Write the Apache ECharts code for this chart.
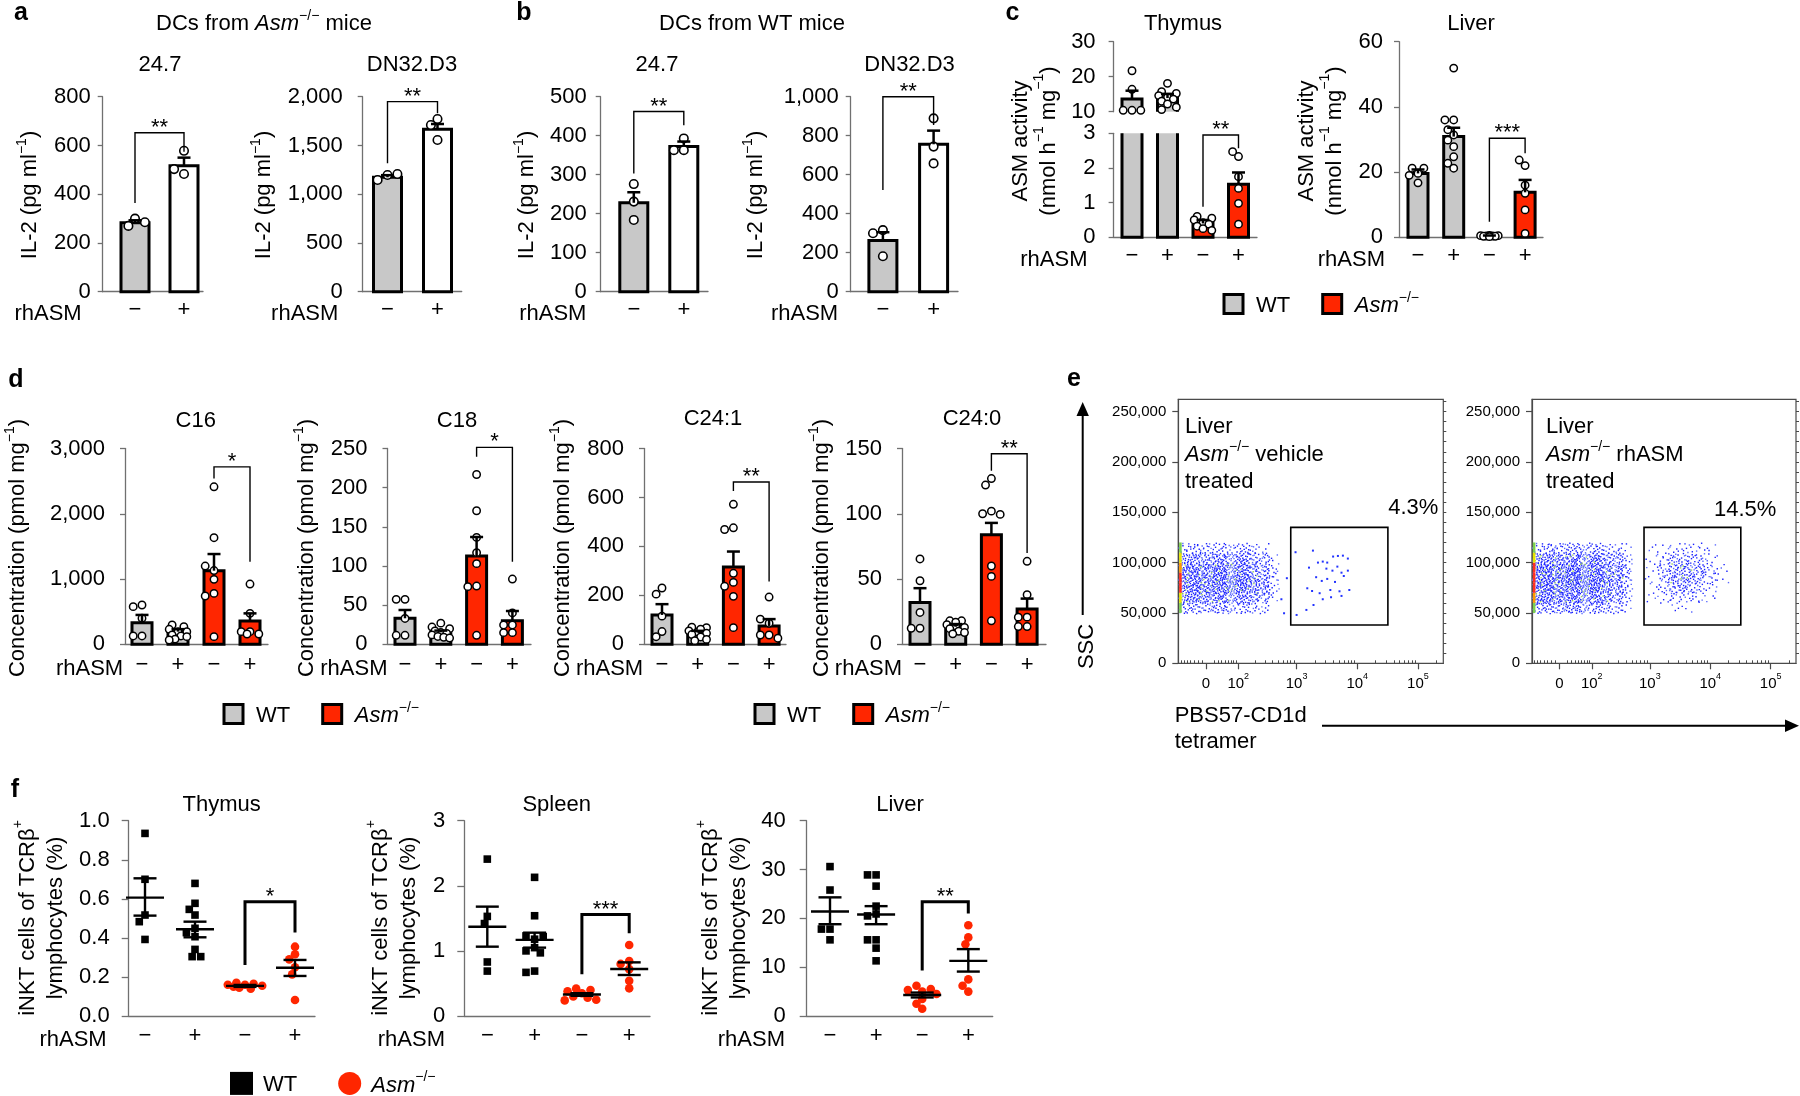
<!DOCTYPE html>
<html><head><meta charset="utf-8"><title>ASM figure</title>
<script src="https://cdn.jsdelivr.net/npm/echarts@6.0.0/dist/echarts.min.js"></script>
<style>html,body{margin:0;padding:0;background:#fff;}#chart{width:1800px;height:1096px;}</style>
</head><body><div id="chart"></div>
<script>
// ======================= DATA =======================
const rhASM2 = ['−', '+'];
const rhASM4 = ['−', '+', '−', '+'];

// a — IL-2 (pg ml−1), DCs from Asm−/− mice
const a247Bars = [283, 517];
const a247Err = [293, 550];
const a247Dots = [[300, 270, 285], [578, 483, 503]];
const a247Sig = [364, 652, 574];
const aDN32Bars = [1173, 1666];
const aDN32Err = [1195, 1720];
const aDN32Dots = [[1197, 1146, 1207], [1556, 1771, 1710]];
const aDN32Sig = [1317, 1949, 1830];

// b — IL-2 (pg ml−1), DCs from WT mice
const b247Bars = [228, 372];
const b247Err = [255, 385];
const b247Dots = [[231, 276, 184], [393, 363, 363]];
const b247Sig = [303, 462, 427];
const bDN32Bars = [262, 756];
const bDN32Err = [305, 826];
const bDN32Dots = [[316, 300, 182], [744, 889, 658]];
const bDN32Sig = [521, 1000, 855];

// c — ASM activity (nmol h−1 mg−1): WT −, WT +, Asm−/− −, Asm−/− +
const cThyBars = [13.6, 13.9, 0.40, 1.53];
const cThyErr = [16.0, 15.1, 0.50, 1.87];
const cThyDots = [[16.4, 21.7, 10.4, 10.4, 10.4], [14.1, 18.1, 15.7, 15.2, 14.6, 13.6, 13.0, 12.2, 11.3, 10.6],
  [0.42, 0.6, 0.55, 0.5, 0.38, 0.32, 0.25, 0.2], [1.75, 2.33, 2.47, 1.41, 0.98, 0.38]];
const cThySig = [0.88, 2.95, 2.57];
const cLivBars = [19.6, 30.9, 0.40, 13.8];
const cLivErr = [20.8, 33.6, 0.55, 17.6];
const cLivDots = [[19.6, 21.2, 21.2, 19.0, 16.7], [31.4, 51.9, 36, 36, 33, 29.8, 27.8, 24.7, 22.7, 21.2],
  [0.6, 0.5, 0.5, 0.4, 0.4, 0.3, 0.3, 0.2], [13.5, 22, 23.7, 16, 8.4, 1.2]];
const cLivSig = [4.8, 30.4, 25.8];

// d — ceramide concentration (pmol mg−1)
const dC16Bars = [332, 194, 1128, 357];
const dC16Err = [450, 232, 1383, 474];
const dC16Dots = [[398, 602, 577, 128, 128], [194, 296, 270, 230, 194, 143, 128, 117, 80, 66],
  [1130, 2413, 1633, 1199, 995, 780, 740, 117], [474, 923, 194, 194, 158, 158]];
const dC16Sig = [2541, 2719, 1265];
const dC18Bars = [33.2, 15.3, 112.7, 30.2];
const dC18Err = [43.8, 17.5, 137, 42.5];
const dC18Dots = [[33, 57.4, 57.4, 11.5, 11.5], [15, 27, 22, 20, 17, 14, 12, 10, 9, 8],
  [117, 216.8, 170.5, 136.5, 103, 74.4, 73.6, 11.5], [40, 83.3, 24.7, 24.7, 14.9, 14.9]];
const dC18Sig = [239.4, 251.5, 105.4];
const dC241Bars = [120, 48, 316, 75];
const dC241Err = [164, 55, 379, 103];
const dC241Dots = [[115, 230, 205, 52, 31], [50, 70, 68, 62, 55, 45, 40, 30, 20, 15],
  [290, 572, 476, 469, 253, 237, 196, 68], [86, 193, 103, 38, 38, 25]];
const dC241Sig = [626, 663, 257];
const dC240Bars = [32, 13.6, 84, 27];
const dC240Err = [43, 15.5, 93, 35];
const dC240Dots = [[24.4, 65.4, 48.7, 12.3, 12.3], [14, 18, 18, 17, 15, 13, 12, 10, 9, 8],
  [60, 127, 122, 102, 100, 99.5, 52, 18], [20.8, 63.6, 38, 20.8, 13.6, 13.6]];
const dC240Sig = [133, 146, 70];

// e — flow cytometry (liver, Asm−/−): PBS57-CD1d tetramer vs SSC
const flowXRange = [-80, 262144];
const flowYRange = [0, 262144];
const flowXMajor = [0, 100, 1000, 10000, 100000];
const flowXLabels = ['{n|0}', '{n|10}{s|2}', '{n|10}{s|3}', '{n|10}{s|4}', '{n|10}{s|5}'];
const flowYTicks = [0, 50000, 100000, 150000, 200000, 250000];
const cloudXEdges = [-80, -30, 0, 30, 70, 130, 220, 350, 500];
const cloudYEdges = [50000, 60000, 70000, 80000, 90000, 100000, 110000, 120000];
// relative event density (0–10), rows from 50k SSC upward
const cloudVehicle = [
  [4, 4, 4, 4, 3, 3, 2, 0], [7, 7, 7, 7, 6, 6, 4, 1], [8, 9, 9, 9, 8, 8, 6, 2], [8, 9, 9, 9, 9, 8, 6, 2],
  [8, 8, 8, 8, 8, 7, 5, 2], [6, 6, 6, 6, 6, 5, 4, 1], [3, 3, 3, 3, 3, 3, 1, 0]];
const cloudRhasm = [
  [4, 5, 5, 5, 4, 4, 3, 1], [8, 8, 8, 8, 7, 7, 5, 2], [9, 9, 9, 9, 9, 8, 6, 3], [9, 10, 10, 10, 9, 9, 7, 3],
  [9, 9, 9, 9, 9, 8, 6, 3], [7, 7, 7, 7, 7, 6, 5, 2], [3, 4, 4, 4, 4, 3, 2, 1]];
const pileVehicle = [2, 4, 7, 8, 6, 3, 1];
const pileRhasm = [2, 5, 8, 8, 7, 4, 1];
const gateXEdges = [800, 1300, 2000, 3200, 5000, 8000, 13000, 20000];
const gateRhasm = [
  [0, 0, 1, 1, 0, 0, 0], [1, 2, 3, 3, 2, 1, 0], [1, 3, 6, 6, 4, 2, 0], [1, 4, 7, 8, 6, 3, 1],
  [1, 4, 7, 7, 6, 3, 1], [1, 3, 5, 5, 4, 2, 0], [1, 1, 2, 3, 2, 1, 0]];
const gateVehiclePts = [[960, 110300], [1860, 111900], [1600, 95000], [2250, 100000], [2700, 101000], [3200, 100000],
  [4000, 106000], [4800, 106600], [5800, 106900], [7000, 104000], [3100, 94000], [3900, 92000], [4700, 96000],
  [5500, 90000], [7000, 92000], [2100, 85500], [2600, 81800], [3200, 83800], [4300, 80800], [6000, 86700],
  [1500, 74500], [1800, 71800], [2400, 69600], [3600, 72800], [5100, 71500], [7400, 72800], [1900, 57900],
  [2700, 63600], [3700, 65600], [5500, 66900], [1450, 53000], [1000, 48000], [690, 84500], [560, 63600], [620, 49700]];
const gateBox = [800, 32000, 38000, 135000];
const gatePct = ['4.3%', '14.5%'];

// f — iNKT cells of TCRβ+ lymphocytes (%)
const fThyVals = [[0.70, 0.935, 0.517, 0.483, 0.392], [0.449, 0.679, 0.577, 0.546, 0.517, 0.427, 0.406, 0.341, 0.304, 0.304],
  [0.16, 0.17, 0.165, 0.16, 0.155, 0.15, 0.145, 0.14], [0.25, 0.316, 0.355, 0.29, 0.213, 0.082]];
const fThyMean = [0.606, 0.444, 0.154, 0.247];
const fThySemLo = [0.514, 0.403, 0.149, 0.205];
const fThySemHi = [0.705, 0.483, 0.159, 0.287];
const fThySig = [0.261, 0.585, 0.427];
const fSplVals = [[1.53, 2.41, 1.42, 0.83, 0.69], [1.18, 2.13, 1.54, 1.23, 1.22, 1.05, 1.0, 0.97, 0.69, 0.67],
  [0.35, 0.42, 0.4, 0.38, 0.3, 0.28, 0.25, 0.24], [0.72, 1.09, 0.845, 0.80, 0.54, 0.425]];
const fSplMean = [1.37, 1.17, 0.33, 0.722];
const fSplSemLo = [1.065, 1.05, 0.31, 0.63];
const fSplSemHi = [1.68, 1.28, 0.35, 0.824];
const fSplSig = [0.64, 1.56, 1.27];
const fLivVals = [[25.8, 30.6, 17.8, 17.8, 15.6], [20.9, 28.9, 28.9, 26.6, 22.5, 20.5, 15.6, 15.6, 13.9, 11.3],
  [5.0, 6.2, 5.5, 5.3, 4.5, 3.5, 2.5, 1.5], [7.5, 18.6, 16.1, 14.7, 6.2, 5.0]];
const fLivMean = [21.4, 20.8, 4.3, 11.3];
const fLivSemLo = [18.8, 18.8, 3.8, 9.1];
const fLivSemHi = [24.3, 22.5, 4.8, 13.7];
const fLivSig = [9.3, 23.4, 21.0];

// ======================= STYLE / BUILDERS =======================
const FONT = '"Liberation Sans", Arial, Helvetica, sans-serif';
const FS = 22;
const AX = '#707070';
const GRAY = '#c8c8c8', RED = '#ff2600';
const grids = [], xAxis = [], yAxis = [], series = [], graphic = [], legends = [];

function rich(fs, lh) {
  const s = Math.round(fs * 0.62);
  lh = lh || fs + 4;
  return {
    n: {fontSize: fs, fontFamily: FONT, color: '#000', lineHeight: lh, verticalAlign: 'bottom'},
    i: {fontSize: fs, fontFamily: FONT, color: '#000', fontStyle: 'italic', lineHeight: lh, verticalAlign: 'bottom'},
    s: {fontSize: s, fontFamily: FONT, color: '#000', lineHeight: s + 2, verticalAlign: 'top'}
  };
}
function label(x, y, t, o) {
  o = o || {};
  const fs = o.fs || FS;
  const al = o.align || 'center';
  graphic.push({type: 'text', x: x, y: y, rotation: o.rot || 0, silent: true, z: 100,
    style: {text: t, rich: rich(fs, o.lh), font: (o.bold ? 'bold ' : '') + fs + 'px ' + FONT, fill: '#000',
      align: al, verticalAlign: 'middle', textAlign: al, textVerticalAlign: 'middle'}});
}
function fmtComma(v) { return Math.round(v).toLocaleString('en-US'); }
function fmt1(v) { return v.toFixed(1); }

// beeswarm placement of dots inside a group (pixel offsets, capped to the group width)
function swarm(pys, d, cap) {
  const placed = [], out = [];
  const step = d / 3;
  pys.forEach(py => {
    let off = 0;
    if (py !== null) {
      let best = 0, bestD = -1, found = false;
      for (let k = 0; k < 400; k++) {
        const c = k === 0 ? 0 : (k % 2 ? -1 : 1) * Math.ceil(k / 2) * step;
        if (Math.abs(c) > cap + 1e-9) break;
        const md = placed.length ? Math.min.apply(null, placed.map(p => Math.hypot(p[0] - c, p[1] - py))) : Infinity;
        if (md >= d * 0.85) { off = c; found = true; break; }
        if (md > bestD) { bestD = md; best = c; }
      }
      if (!found) off = best;
      placed.push([off, py]);
    }
    out.push(off);
  });
  return out;
}

function barRenderer(color, w, bw) {
  return (p, api) => {
    const i = api.value(0), v = api.value(1), cs = p.coordSys;
    const b = api.coord([i, 0]), t = api.coord([i, v]);
    const yb = Math.min(b[1], cs.y + cs.height), yt = Math.max(t[1], cs.y);
    if (yt >= yb) return null;
    const x0 = b[0] - w / 2, x1 = b[0] + w / 2;
    const topIn = t[1] >= cs.y - 0.5, botIn = b[1] <= cs.y + cs.height + 0.5;
    const ls = {stroke: '#000', lineWidth: bw, fill: 'none'};
    const kids = [{type: 'rect', shape: {x: x0, y: yt, width: w, height: yb - yt}, style: {fill: color}}];
    if (topIn && botIn) kids.push({type: 'rect', shape: {x: x0, y: yt, width: w, height: yb - yt}, style: ls});
    else if (topIn) kids.push({type: 'polyline', shape: {points: [[x0, yb], [x0, yt], [x1, yt], [x1, yb]]}, style: ls});
    else if (botIn) kids.push({type: 'polyline', shape: {points: [[x0, yt], [x0, yb], [x1, yb], [x1, yt]]}, style: ls});
    else kids.push({type: 'line', shape: {x1: x0, y1: yt, x2: x0, y2: yb}, style: ls},
                   {type: 'line', shape: {x1: x1, y1: yt, x2: x1, y2: yb}, style: ls});
    return {type: 'group', children: kids};
  };
}
function errRenderer(cap, lw) {
  return (p, api) => {
    const i = api.value(0), cs = p.coordSys;
    const a = api.coord([i, api.value(1)]), b = api.coord([i, api.value(2)]);
    if (a[1] < cs.y - 0.5 || a[1] > cs.y + cs.height + 0.5 || b[1] < cs.y - 0.5) return null;
    const ls = {stroke: '#000', lineWidth: lw};
    return {type: 'group', children: [
      {type: 'line', shape: {x1: a[0], y1: a[1], x2: b[0], y2: b[1]}, style: ls},
      {type: 'line', shape: {x1: b[0] - cap / 2, y1: b[1], x2: b[0] + cap / 2, y2: b[1]}, style: ls}]};
  };
}
function meanRenderer(mw, cw, lw) {
  return (p, api) => {
    const i = api.value(0);
    const m = api.coord([i, api.value(1)]), lo = api.coord([i, api.value(2)]), hi = api.coord([i, api.value(3)]);
    const ls = {stroke: '#000', lineWidth: lw};
    return {type: 'group', children: [
      {type: 'line', shape: {x1: m[0] - mw / 2, y1: m[1], x2: m[0] + mw / 2, y2: m[1]}, style: ls},
      {type: 'line', shape: {x1: lo[0], y1: lo[1], x2: hi[0], y2: hi[1]}, style: ls},
      {type: 'line', shape: {x1: lo[0] - cw / 2, y1: lo[1], x2: lo[0] + cw / 2, y2: lo[1]}, style: ls},
      {type: 'line', shape: {x1: hi[0] - cw / 2, y1: hi[1], x2: hi[0] + cw / 2, y2: hi[1]}, style: ls}]};
  };
}
function addSig(xi, yi, brI, sig, stars, lw) {
  series.push({type: 'custom', xAxisIndex: xi, yAxisIndex: yi, z: 5, silent: true, clip: false,
    encode: {x: [0, 1], y: [2, 3, 4]},
    data: [[brI[0], brI[1], sig[0], sig[1], sig[2]]],
    renderItem: (p, api) => {
      const a = api.coord([api.value(0), api.value(2)]), b = api.coord([api.value(0), api.value(3)]);
      const c = api.coord([api.value(1), api.value(3)]), d = api.coord([api.value(1), api.value(4)]);
      return {type: 'group', children: [
        {type: 'polyline', shape: {points: [a, b, c, d]}, style: {stroke: '#000', lineWidth: lw, fill: 'none'}},
        {type: 'text', x: (b[0] + c[0]) / 2, y: b[1] - 5,
          style: {text: stars, font: FS + 'px ' + FONT, fill: '#000', align: 'center', verticalAlign: 'middle',
            textAlign: 'center', textVerticalAlign: 'middle'}}]};
    }});
}
function catAxis(gi, c, cats, show) {
  xAxis.push({type: 'value', gridIndex: gi, min: (c.L - c.c0) / c.step, max: (c.R - c.c0) / c.step,
    axisLine: {show: show, onZero: false, lineStyle: {color: AX, width: 1.3}},
    axisTick: {show: false}, splitLine: {show: false},
    axisLabel: {show: show, customValues: cats.map((_, i) => i), formatter: v => cats[Math.round(v)],
      fontSize: FS, fontFamily: FONT, color: '#000', margin: c.xm}});
  return xAxis.length - 1;
}
function valAxis(gi, c, sg) {
  yAxis.push({type: 'value', gridIndex: gi, min: sg.min, max: sg.max, interval: sg.interval,
    axisLine: {show: true, onZero: false, lineStyle: {color: AX, width: 1.3}},
    axisTick: {show: true, length: c.tl, lineStyle: {color: AX, width: 1.3}},
    splitLine: {show: false},
    axisLabel: {fontSize: FS, fontFamily: FONT, color: '#000', margin: c.ym, formatter: c.fmt || fmtComma}});
  return yAxis.length - 1;
}

function barPlot(c) {
  const xs = [], ys = [];
  c.segs.forEach((sg, k) => {
    const gi = grids.length;
    grids.push({left: c.L, top: sg.top, width: c.R - c.L, height: sg.bottom - sg.top, containLabel: false, outerBoundsMode: 'none'});
    xs.push(catAxis(gi, c, c.cats, k === c.segs.length - 1));
    ys.push(valAxis(gi, c, sg));
  });
  const inSeg = (sg, v) => v >= sg.min - 1e-9 && v <= sg.max + 1e-9;
  const toPx = v => { for (const sg of c.segs) if (inSeg(sg, v)) return sg.bottom - (v - sg.min) / (sg.max - sg.min) * (sg.bottom - sg.top); return null; };
  const dotData = [];
  c.dots.forEach((vals, i) => {
    const offs = swarm(vals.map(toPx), c.dot + 1.4, c.spread);
    vals.forEach((v, j) => dotData.push([i + offs[j] / c.step, v]));
  });
  c.segs.forEach((sg, k) => {
    const ax = {xAxisIndex: xs[k], yAxisIndex: ys[k]};
    c.groups.forEach(bg => {
      series.push(Object.assign({type: 'custom', name: bg.name, z: 2, silent: true, clip: false, encode: {x: 0, y: 1},
        data: bg.idx.map(i => [i, c.bars[i]]), renderItem: barRenderer(bg.color, c.barW, 3)}, ax));
    });
    const segDots = c.segs.length > 1 ? dotData.filter(d => inSeg(sg, d[1])) : dotData;
    series.push(Object.assign({type: 'scatter', z: 3, silent: true, symbol: 'circle', symbolSize: c.dot, clip: false,
      itemStyle: {color: '#fff', borderColor: '#000', borderWidth: c.dotBw, opacity: 1}, data: segDots}, ax));
    series.push(Object.assign({type: 'custom', z: 4, silent: true, clip: false, encode: {x: 0, y: [1, 2]},
      data: c.bars.map((v, i) => [i, v, c.err[i]]), renderItem: errRenderer(c.cap, 2.5)}, ax));
  });
  const bk = c.segs.length - 1;
  addSig(xs[bk], ys[bk], c.brI, c.sig, c.stars, 1.4);
}

function dotPlot(c) {
  const gi = grids.length;
  grids.push({left: c.L, top: c.top, width: c.R - c.L, height: c.bottom - c.top, containLabel: false, outerBoundsMode: 'none'});
  const xi = catAxis(gi, c, rhASM4, true);
  const yi = valAxis(gi, c, c);
  const toPx = v => c.bottom - (v - c.min) / (c.max - c.min) * (c.bottom - c.top);
  const wt = [], ko = [];
  c.vals.forEach((vals, i) => {
    const offs = swarm(vals.map(toPx), c.sym + 1, 18);
    vals.forEach((v, j) => (i < 2 ? wt : ko).push([i + offs[j] / c.step, v]));
  });
  series.push({type: 'scatter', name: 'WT ', xAxisIndex: xi, yAxisIndex: yi, symbol: 'rect', symbolSize: c.sym,
    itemStyle: {color: '#000', opacity: 1}, data: wt, z: 3, silent: true, clip: false});
  series.push({type: 'scatter', name: 'Asm ', xAxisIndex: xi, yAxisIndex: yi, symbol: 'circle', symbolSize: c.sym + 1,
    itemStyle: {color: RED, opacity: 1}, data: ko, z: 3, silent: true, clip: false});
  series.push({type: 'custom', xAxisIndex: xi, yAxisIndex: yi, z: 4, silent: true, clip: false, encode: {x: 0, y: [1, 2, 3]},
    data: c.mean.map((m, i) => [i, m, c.semLo[i], c.semHi[i]]), renderItem: meanRenderer(38, 23, 2.4)});
  addSig(xi, yi, [2, 3], c.sig, c.stars, 3);
}

// ---- flow cytometry helpers
const T = v => Math.log10(32) + Math.asinh(v / 64) / Math.LN10;   // logicle-like display transform
function halton(i, b) { let f = 1, r = 0; while (i > 0) { f /= b; r += f * (i % b); i = Math.floor(i / b); } return r; }
function stippleRenderer(rate) {
  return (p, api) => {
    const a = api.coord([api.value(0), api.value(2)]), b = api.coord([api.value(1), api.value(3)]);
    const x0 = Math.min(a[0], b[0]), x1 = Math.max(a[0], b[0]), y0 = Math.min(a[1], b[1]), y1 = Math.max(a[1], b[1]);
    const dens = api.value(4);
    const n = Math.round(dens * (x1 - x0) * (y1 - y0) * rate);
    const kids = [];
    for (let k = 0; k < n; k++) {
      const j = k + 7 + p.dataIndex * 389;
      const px = x0 + halton(j, 2) * (x1 - x0), py = y0 + halton(j, 3) * (y1 - y0);
      let col = '#1a22ff';
      if (k % 4 === 1) col = '#5d6bff';
      if (dens >= 7 && k % 13 === 5) col = '#9bd45a';
      kids.push({type: 'rect', shape: {x: px, y: py, width: 1.4, height: 1.4}, style: {fill: col}});
    }
    return {type: 'group', children: kids};
  };
}
function cells(matrix, xEdges, yEdges) {
  const out = [];
  matrix.forEach((row, r) => row.forEach((d, k) => out.push([T(xEdges[k]), T(xEdges[k + 1]), yEdges[r], yEdges[r + 1], d])));
  return out;
}
function flowPlot(c) {
  const gi = grids.length;
  grids.push({left: c.L, top: c.top, width: c.R - c.L, height: c.bottom - c.top, show: true, borderColor: '#4a4a4a',
    borderWidth: 1.2, backgroundColor: 'rgba(0,0,0,0)', containLabel: false, outerBoundsMode: 'none'});
  const xMin = T(flowXRange[0]), xMax = T(flowXRange[1]);
  const majors = flowXMajor.map(T);
  const minors = [];
  [-70, -60, -50, -40, -30, -20, -10].forEach(v => minors.push(v));
  [1, 2, 3, 4].forEach(e => { for (let k = 2; k <= 9; k++) minors.push(k * Math.pow(10, e)); });
  minors.push(200000);
  const xi = xAxis.length;
  xAxis.push({type: 'value', gridIndex: gi, min: xMin, max: xMax,
    axisLine: {show: true, onZero: false, lineStyle: {color: '#4a4a4a', width: 1.2}}, splitLine: {show: false},
    axisTick: {show: true, length: 6, customValues: majors, lineStyle: {color: '#4a4a4a', width: 1.2}},
    axisLabel: {customValues: majors, margin: 9, rich: rich(15),
      formatter: v => { const k = majors.findIndex(m => Math.abs(m - v) < 1e-6); return flowXLabels[k] || ''; }}});
  xAxis.push({type: 'value', gridIndex: gi, min: xMin, max: xMax, axisLine: {show: false}, splitLine: {show: false},
    axisLabel: {show: false}, axisTick: {show: true, length: 3, customValues: minors.map(T), lineStyle: {color: '#4a4a4a', width: 1}}});
  const yi = yAxis.length;
  yAxis.push({type: 'value', gridIndex: gi, min: flowYRange[0], max: flowYRange[1], interval: 50000,
    axisLine: {show: true, onZero: false, lineStyle: {color: '#4a4a4a', width: 1.2}}, splitLine: {show: false},
    axisTick: {show: true, length: 6, customValues: flowYTicks, lineStyle: {color: '#4a4a4a', width: 1.2}},
    axisLabel: {customValues: flowYTicks, fontSize: 15, fontFamily: FONT, color: '#000', margin: 12, formatter: fmtComma}});
  const yMinor = [];
  for (let v = 10000; v < 262144; v += 10000) yMinor.push(v);
  yAxis.push({type: 'value', gridIndex: gi, min: flowYRange[0], max: flowYRange[1], axisLine: {show: false},
    splitLine: {show: false}, axisLabel: {show: false},
    axisTick: {show: true, length: 3, customValues: yMinor, lineStyle: {color: '#4a4a4a', width: 1}}});
  const ax = {xAxisIndex: xi, yAxisIndex: yi};
  series.push(Object.assign({type: 'custom', z: 2, silent: true, clip: false, encode: {x: [0, 1], y: [2, 3]},
    data: cells(c.cloud, cloudXEdges, cloudYEdges), renderItem: stippleRenderer(0.032)}, ax));
  series.push(Object.assign({type: 'custom', z: 3, silent: true, clip: false, encode: {x: 0, y: [1, 2]},
    data: c.pile.map((d, r) => [T(flowXRange[0]), cloudYEdges[r], cloudYEdges[r + 1], d]),
    renderItem: (p, api) => {
      const a = api.coord([api.value(0), api.value(1)]), b = api.coord([api.value(0), api.value(2)]);
      const d = api.value(3);
      const col = d >= 7 ? '#ff3020' : d >= 5 ? '#ff9a00' : d >= 3 ? '#e6e600' : '#7cd050';
      return {type: 'rect', shape: {x: p.coordSys.x + 0.8, y: b[1], width: 2.6, height: a[1] - b[1]}, style: {fill: col}};
    }}, ax));
  if (c.gateCells) series.push(Object.assign({type: 'custom', z: 2, silent: true, clip: false, encode: {x: [0, 1], y: [2, 3]},
    data: cells(c.gateCells, gateXEdges, cloudYEdges), renderItem: stippleRenderer(0.024)}, ax));
  if (c.gatePts) series.push(Object.assign({type: 'scatter', z: 3, silent: true, symbol: 'rect', symbolSize: 2,
    itemStyle: {color: '#2233ff', opacity: 1}, data: c.gatePts.map(p => [T(p[0]), p[1]])}, ax));
  series.push(Object.assign({type: 'custom', z: 4, silent: true, clip: false, encode: {x: [0, 1], y: [2, 3]},
    data: [[T(gateBox[0]), T(gateBox[1]), gateBox[2], gateBox[3]]],
    renderItem: (p, api) => {
      const a = api.coord([api.value(0), api.value(2)]), b = api.coord([api.value(1), api.value(3)]);
      return {type: 'rect', shape: {x: a[0], y: b[1], width: b[0] - a[0], height: a[1] - b[1]},
        style: {fill: 'none', stroke: '#000', lineWidth: 1.6}};
    }}, ax));
}

// ======================= BUILD PANELS =======================
const abGroups = [{name: 'minus', idx: [0], color: GRAY}, {name: 'plus', idx: [1], color: '#ffffff'}];
const cdGroups = [{name: 'WT', idx: [0, 1], color: GRAY}, {name: 'Asm', idx: [2, 3], color: RED}];
const abBase = {cats: rhASM2, groups: abGroups, barW: 28, dot: 8.5, dotBw: 1.6, cap: 13, brI: [0, 1], stars: '**', tl: 5, xm: 7, spread: 13};
const cdBase = {cats: rhASM4, groups: cdGroups, barW: 20, dot: 7.4, dotBw: 1.5, cap: 13, brI: [2, 3], tl: 5, xm: 8, spread: 10};

// a
barPlot(Object.assign({}, abBase, {L: 102.7, R: 203, c0: 135, step: 49, ym: 12,
  segs: [{top: 96.7, bottom: 291.7, min: 0, max: 800, interval: 200}],
  bars: a247Bars, err: a247Err, dots: a247Dots, sig: a247Sig}));
barPlot(Object.assign({}, abBase, {L: 362.7, R: 461.7, c0: 387.5, step: 50, ym: 20,
  segs: [{top: 96.7, bottom: 291.7, min: 0, max: 2000, interval: 500}],
  bars: aDN32Bars, err: aDN32Err, dots: aDN32Dots, sig: aDN32Sig}));
// b
barPlot(Object.assign({}, abBase, {L: 600.7, R: 708, c0: 633.8, step: 50, ym: 14,
  segs: [{top: 96.7, bottom: 291.7, min: 0, max: 500, interval: 100}],
  bars: b247Bars, err: b247Err, dots: b247Dots, sig: b247Sig}));
barPlot(Object.assign({}, abBase, {L: 850.7, R: 958, c0: 882.9, step: 50.7, ym: 12,
  segs: [{top: 96.7, bottom: 291.7, min: 0, max: 1000, interval: 200}],
  bars: bDN32Bars, err: bDN32Err, dots: bDN32Dots, sig: bDN32Sig}));
// c
barPlot(Object.assign({}, cdBase, {L: 1113.6, R: 1257, c0: 1132, step: 35.5, ym: 18, xm: 8,
  segs: [{top: 41.7, bottom: 111.7, min: 10, max: 30, interval: 10}, {top: 133.3, bottom: 237.3, min: 0, max: 3, interval: 1}],
  bars: cThyBars, err: cThyErr, dots: cThyDots, sig: cThySig, stars: '**'}));
barPlot(Object.assign({}, cdBase, {L: 1399, R: 1543, c0: 1418, step: 35.7, ym: 16, xm: 8,
  segs: [{top: 41.7, bottom: 237.3, min: 0, max: 60, interval: 20}],
  bars: cLivBars, err: cLivErr, dots: cLivDots, sig: cLivSig, stars: '***'}));
// d
const dSeg = (max, interval) => [{top: 448.5, bottom: 644.3, min: 0, max: max, interval: interval}];
barPlot(Object.assign({}, cdBase, {L: 125, R: 268, c0: 142, step: 36, ym: 20, xm: 9.5, segs: dSeg(3000, 1000),
  bars: dC16Bars, err: dC16Err, dots: dC16Dots, sig: dC16Sig, stars: '*'}));
barPlot(Object.assign({}, cdBase, {L: 387.5, R: 531, c0: 405, step: 35.8, ym: 20, xm: 9.5, segs: dSeg(250, 50),
  bars: dC18Bars, err: dC18Err, dots: dC18Dots, sig: dC18Sig, stars: '*'}));
barPlot(Object.assign({}, cdBase, {L: 644, R: 786, c0: 662, step: 35.7, ym: 20, xm: 9.5, segs: dSeg(800, 200),
  bars: dC241Bars, err: dC241Err, dots: dC241Dots, sig: dC241Sig, stars: '**'}));
barPlot(Object.assign({}, cdBase, {L: 902, R: 1046, c0: 920, step: 35.7, ym: 20, xm: 9.5, segs: dSeg(150, 50),
  bars: dC240Bars, err: dC240Err, dots: dC240Dots, sig: dC240Sig, stars: '**'}));
// e
flowPlot({L: 1178.3, R: 1443.3, top: 399.3, bottom: 663.3, cloud: cloudVehicle, pile: pileVehicle, gatePts: gateVehiclePts});
flowPlot({L: 1532, R: 1796, top: 399.3, bottom: 663.3, cloud: cloudRhasm, pile: pileRhasm, gateCells: gateRhasm});
// f
const fBase = {top: 820.7, bottom: 1016, sym: 7.6, tl: 7, xm: 9};
dotPlot(Object.assign({}, fBase, {L: 128.7, R: 315, c0: 145, step: 50, ym: 19, min: 0, max: 1, interval: 0.2, fmt: fmt1,
  vals: fThyVals, mean: fThyMean, semLo: fThySemLo, semHi: fThySemHi, sig: fThySig, stars: '*'}));
dotPlot(Object.assign({}, fBase, {L: 464.3, R: 650, c0: 487.3, step: 47.3, ym: 19, min: 0, max: 3, interval: 1,
  vals: fSplVals, mean: fSplMean, semLo: fSplSemLo, semHi: fSplSemHi, sig: fSplSig, stars: '***'}));
dotPlot(Object.assign({}, fBase, {L: 806.7, R: 992.7, c0: 830, step: 46.1, ym: 21, min: 0, max: 40, interval: 10,
  vals: fLivVals, mean: fLivMean, semLo: fLivSemLo, semHi: fLivSemHi, sig: fLivSig, stars: '**'}));

// ======================= TEXT =======================
const ASM = '{i|Asm}{s|−/−}';
[['a', 21, 12.7], ['b', 524, 13], ['c', 1012.5, 12.7], ['d', 16, 380], ['e', 1074, 378.7], ['f', 15, 790.5]]
  .forEach(l => label(l[1], l[2], l[0], {bold: true, fs: 25}));
label(264, 22, '{n|DCs from }' + ASM + '{n| mice}');
label(752, 22, '{n|DCs from WT mice}');
[['24.7', 160, 63], ['DN32.D3', 412, 63], ['24.7', 657, 63], ['DN32.D3', 909.6, 63], ['Thymus', 1183, 21.7], ['Liver', 1471, 21.7],
 ['C16', 195.7, 419], ['C18', 457, 419], ['C24:1', 713, 417], ['C24:0', 972, 417],
 ['Thymus', 221.7, 803], ['Spleen', 556.7, 803], ['Liver', 900, 803]].forEach(t => label(t[1], t[2], '{n|' + t[0] + '}'));
[[81.7, 311.7], [338.3, 311.7], [586.4, 311.7], [838.2, 311.7], [1087.5, 258.3], [1385, 258.3],
 [123.2, 666.7], [387.5, 666.7], [643.2, 666.7], [902.1, 666.7], [106.7, 1038.3], [445, 1038.3], [785, 1038.3]]
  .forEach(p => label(p[0], p[1], '{n|rhASM}', {align: 'right'}));
const ROT = Math.PI / 2;
const IL2 = '{n|IL-2 (pg ml}{s|−1}{n|)}';
[[28.3, 195], [261.7, 195], [525, 195], [754.3, 195]].forEach(p => label(p[0], p[1], IL2, {rot: ROT}));
const ASMACT = '{n|ASM activity}\n{n|(nmol h}{s|−1}{n| mg}{s|−1}{n|)}';
[[1032, 141], [1318, 141]].forEach(p => label(p[0], p[1], ASMACT, {rot: ROT, lh: 28}));
const CONC = '{n|Concentration (pmol mg}{s|−1}{n|)}';
[[16, 548], [305, 548], [561, 548], [820, 548]].forEach(p => label(p[0], p[1], CONC, {rot: ROT}));
const INKT = '{n|iNKT cells of TCRβ}{s|+}\n{n|lymphocytes (%)}';
[[39, 918], [391.7, 918], [721.7, 918]].forEach(p => label(p[0], p[1], INKT, {rot: ROT, lh: 28}));

// e annotations
label(1185, 425, '{n|Liver}', {align: 'left'});
label(1185, 452.7, ASM + '{n| vehicle}', {align: 'left'});
label(1185, 480, '{n|treated}', {align: 'left'});
label(1438.3, 506, '{n|' + gatePct[0] + '}', {align: 'right'});
label(1546, 425, '{n|Liver}', {align: 'left'});
label(1546, 452.7, ASM + '{n| rhASM}', {align: 'left'});
label(1546, 480, '{n|treated}', {align: 'left'});
label(1776.4, 508, '{n|' + gatePct[1] + '}', {align: 'right'});
label(1085, 646.5, '{n|SSC}', {rot: ROT});
label(1174.7, 714, '{n|PBS57-CD1d}', {align: 'left'});
label(1174.7, 740, '{n|tetramer}', {align: 'left'});
graphic.push({type: 'line', silent: true, shape: {x1: 1082.7, y1: 615, x2: 1082.7, y2: 412}, style: {stroke: '#000', lineWidth: 2}});
graphic.push({type: 'polygon', silent: true, shape: {points: [[1082.7, 402], [1076.5, 416], [1088.9, 416]]}, style: {fill: '#000'}});
graphic.push({type: 'line', silent: true, shape: {x1: 1322, y1: 725.7, x2: 1788, y2: 725.7}, style: {stroke: '#000', lineWidth: 2}});
graphic.push({type: 'polygon', silent: true, shape: {points: [[1799, 725.7], [1785, 719.5], [1785, 731.9]]}, style: {fill: '#000'}});

// ======================= LEGENDS =======================
const legText = n => (n.trim() === 'Asm' ? ASM : '{n|WT}');
function barLegend(left, top) {
  legends.push({left: left, top: top, padding: 0, orient: 'horizontal', itemWidth: 19, itemHeight: 19, itemGap: 31,
    selectedMode: false, formatter: legText, textStyle: {rich: rich(FS), fontSize: FS, padding: [0, 0, 0, 8]},
    data: [{name: 'WT', icon: 'rect', itemStyle: {color: GRAY, borderColor: '#000', borderWidth: 3, opacity: 1}},
           {name: 'Asm', icon: 'rect', itemStyle: {color: RED, borderColor: '#000', borderWidth: 3, opacity: 1}}]});
}
barLegend(1222.5, 291);
barLegend(222.5, 701);
barLegend(753.5, 701);
legends.push({left: 230, top: 1070.4, padding: 0, itemWidth: 23, itemHeight: 23, itemGap: 41, selectedMode: false,
  formatter: legText, textStyle: {rich: rich(FS), fontSize: FS, padding: [0, 0, 0, 5]},
  data: [{name: 'WT ', icon: 'rect', itemStyle: {color: '#000', opacity: 1}},
         {name: 'Asm ', icon: 'circle', itemStyle: {color: RED, opacity: 1}}]});

// ======================= RENDER =======================
const chart = echarts.init(document.getElementById('chart'), null, {renderer: 'canvas', width: 1800, height: 1096});
chart.setOption({animation: false, backgroundColor: '#ffffff', textStyle: {fontFamily: FONT},
  grid: grids, xAxis: xAxis, yAxis: yAxis, series: series, legend: legends, graphic: graphic});
</script></body></html>
